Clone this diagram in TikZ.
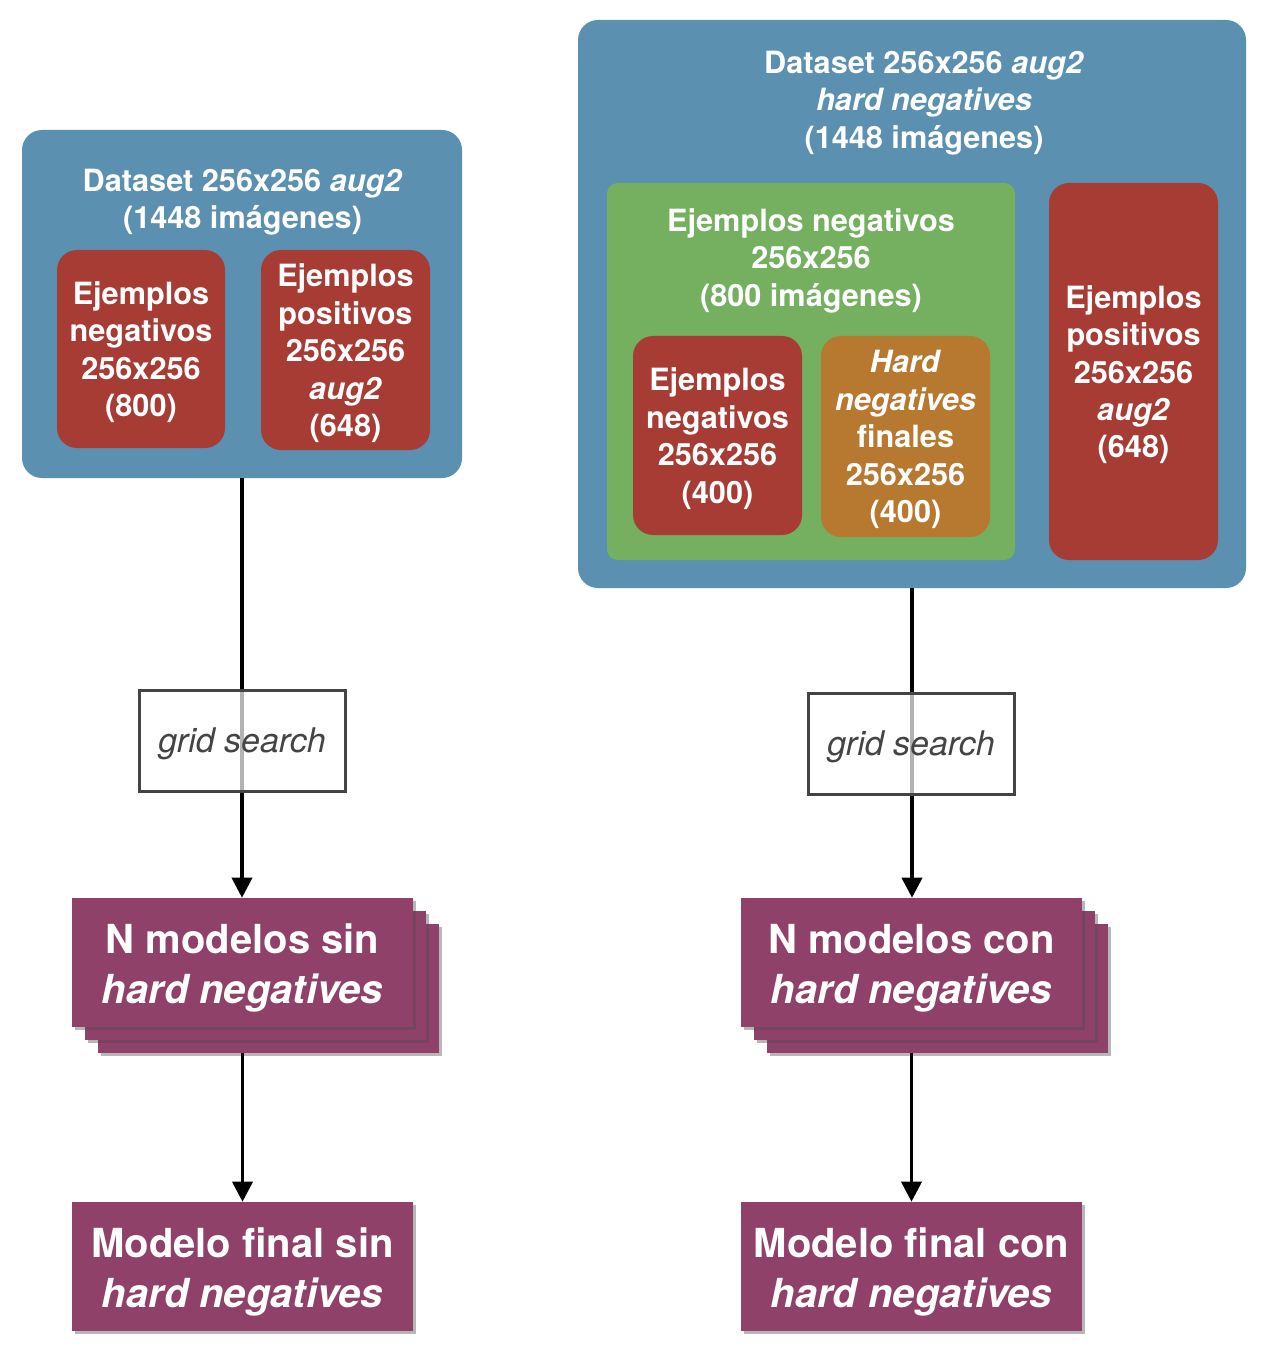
\documentclass[tikz,border=0pt]{standalone}
\usepackage{fontspec}
\setmainfont{TeX Gyre Heros}
\usetikzlibrary{arrows.meta,shadows}
\definecolor{dsblue}{RGB}{91,144,176}
\definecolor{exred}{RGB}{167,60,52}
\definecolor{exgreen}{RGB}{116,176,96}
\definecolor{exorange}{RGB}{183,120,48}
\definecolor{mdpurple}{RGB}{143,65,106}
\definecolor{gridgray}{RGB}{68,68,68}
\tikzset{
  box/.style={rounded corners=15pt, inner sep=0pt},
  bluebox/.style={box, fill=dsblue},
  redbox/.style={box, fill=exred},
  greenbox/.style={box, fill=exgreen},
  orangebox/.style={box, fill=exorange},
  titletext/.style={text=white, align=center, inner sep=0pt,
    font=\bfseries\fontsize{23}{28.1}\selectfont},
  inlbl/.style={titletext, yshift=-2.4pt},
  modellbl/.style={text=white, align=center, inner sep=0pt, yshift=-4.3pt,
    font=\bfseries\fontsize{30}{37.5}\selectfont},
  modelbox/.style={fill=mdpurple, inner sep=0pt,
    minimum width=255.75pt, minimum height=96.75pt,
    drop shadow={shadow xshift=2.5pt, shadow yshift=-2.5pt, opacity=0.4, fill=black!70}},
  gridbox/.style={draw=gridgray, line width=2.25pt, fill=white, fill opacity=0.7,
    inner sep=0pt, minimum width=154.5pt, minimum height=75.75pt},
  gridlbl/.style={text=gridgray, inner sep=0pt, yshift=-2.6pt,
    font=\itshape\fontsize{25.5}{30}\selectfont},
  flow/.style={line width=2.7pt, -{Triangle[width=15pt,length=15pt]}},
}
\begin{document}
\begin{tikzpicture}[x=0.75pt,y=-0.75pt]
\useasboundingbox (0,0) rectangle (1276,1358);
% ---------- left dataset ----------
\node[bluebox, minimum width=330pt, minimum height=261pt] (lblue) at (242,304) {};
\node[titletext] (ltitle) at (242.5,202) {Dataset 256x256 \textit{aug2}\\(1448 imágenes)};
\node[redbox, minimum width=126pt, minimum height=148.5pt,
  label={[inlbl]center:{Ejemplos\\negativos\\256x256\\(800)}}] (lneg) at (141,349) {};
\node[redbox, minimum width=126.75pt, minimum height=150pt,
  label={[inlbl]center:{Ejemplos\\positivos\\256x256\\\textit{aug2}\\(648)}}] (lpos) at (345.5,350) {};
% ---------- right dataset ----------
\node[bluebox, minimum width=501pt, minimum height=426pt] (rblue) at (912,304) {};
\node[titletext] (rtitle) at (924,103) {Dataset 256x256 \textit{aug2}\\\textit{hard negatives}\\(1448 imágenes)};
\node[greenbox, rounded corners=8pt, minimum width=306pt, minimum height=282.75pt] (green) at (811,371.5) {};
\node[titletext] (gtitle) at (811,260.5) {Ejemplos negativos\\256x256\\(800 imágenes)};
\node[redbox, minimum width=126.75pt, minimum height=149.25pt,
  label={[inlbl]center:{Ejemplos\\negativos\\256x256\\(400)}}] (rneg) at (717.5,435.5) {};
\node[orangebox, minimum width=126.75pt, minimum height=150.75pt,
  label={[inlbl]center:{\textit{Hard}\\\textit{negatives}\\finales\\256x256\\(400)}}] (rhard) at (905.5,436.5) {};
\node[redbox, minimum width=126.75pt, minimum height=282.75pt,
  label={[inlbl]center:{Ejemplos\\positivos\\256x256\\\textit{aug2}\\(648)}}] (rpos) at (1133.5,371.5) {};
% ---------- model stacks ----------
\node[modelbox] (lstackc) at (268.5,988.5) {};
\node[modelbox] (lstackb) at (255.5,975.5) {};
\node[modelbox, label={[modellbl]center:{N modelos sin\\\textit{hard negatives}}}] (lstack) at (242.5,962.5) {};
\node[modelbox] (rstackc) at (937.5,988.5) {};
\node[modelbox] (rstackb) at (924.5,975.5) {};
\node[modelbox, label={[modellbl]center:{N modelos con\\\textit{hard negatives}}}] (rstack) at (911.5,962.5) {};
% ---------- final models ----------
\node[modelbox, label={[modellbl]center:{Modelo final sin\\\textit{hard negatives}}}] (lfinal) at (242.5,1266.5) {};
\node[modelbox, label={[modellbl]center:{Modelo final con\\\textit{hard negatives}}}] (rfinal) at (911.5,1266.5) {};
% ---------- connectors ----------
\draw[flow] (lblue.south) -- (lstack.north -| lblue.south);
\draw[flow] (rblue.south) -- (rstack.north -| rblue.south);
\draw[flow] (lstackc.south -| lfinal.north) -- (lfinal.north);
\draw[flow] (rstackc.south -| rfinal.north) -- (rfinal.north);
% ---------- grid search boxes ----------
\node[gridbox, label={[gridlbl]center:grid search}] (lgrid) at (242,740.5) {};
\node[gridbox, label={[gridlbl]center:grid search}] (rgrid) at (911,743.5) {};
\end{tikzpicture}
\end{document}
